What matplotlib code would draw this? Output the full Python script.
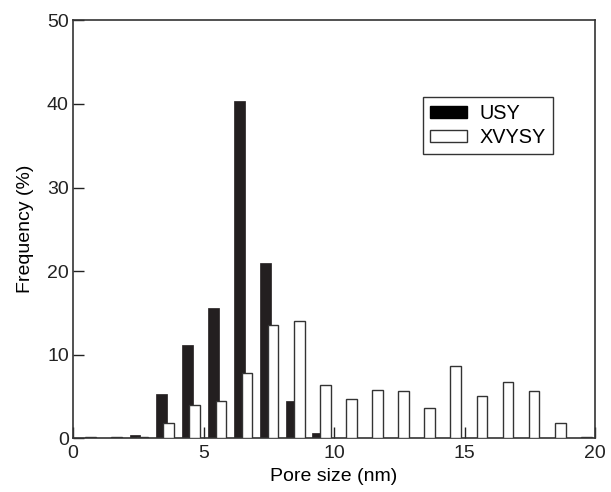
import matplotlib
matplotlib.use("Agg")
import matplotlib.pyplot as plt
from matplotlib.patches import Patch
import numpy as np

bins = np.arange(20)
usy = [0, 0, 0.35, 5.3, 11.15, 15.6, 40.35, 21.0, 4.45, 0.62,
       0, 0, 0, 0, 0, 0, 0, 0, 0, 0]
xvysy = [0.15, 0.15, 0.12, 1.87, 3.95, 4.43, 7.85, 13.6, 14.0, 6.38,
         4.74, 5.74, 5.70, 3.67, 8.61, 5.02, 6.70, 5.70, 1.83, 0.12]
xticks = [0, 5, 10, 15, 20]
yticks = [0, 10, 20, 30, 40, 50]

plt.rcParams['font.family'] = ['Liberation Sans', 'DejaVu Sans']
fig = plt.figure(figsize=(6.11, 4.92), dpi=100)
ax = fig.add_axes([73/611, 1-438.3/492, 522/611, 418/492])

w = 0.41
ax.bar(bins + 0.38, usy, width=w, color='#231f20', edgecolor='#231f20',
       linewidth=0.5, label='USY', zorder=2)
ax.bar(bins + 0.665, xvysy, width=w, color='white', edgecolor='#333333',
       linewidth=1.0, label='XVYSY', zorder=3)

ax.set_xlim(0, 20)
ax.set_ylim(0, 50)
ax.set_xticks(xticks)
ax.set_yticks(yticks)
ax.tick_params(direction='in', length=8, width=1, labelsize=14, colors='#222222')
ax.tick_params(axis='x', pad=5)
ax.tick_params(axis='y', pad=3)
for s in ax.spines.values():
    s.set_linewidth(1.2)
    s.set_color('#333333')
ax.set_xlabel('Pore size (nm)', fontsize=14, labelpad=4)
ax.set_ylabel('Frequency (%)', fontsize=14, labelpad=9)

handles = [Patch(facecolor='black', edgecolor='black', label='USY'),
           Patch(facecolor='white', edgecolor='#333333', linewidth=1.0, label='XVYSY')]
leg = ax.legend(handles=handles, loc='upper left', bbox_to_anchor=(0.670, 0.816),
                fontsize=14.3, frameon=True, fancybox=False, framealpha=1,
                edgecolor='#333333', handlelength=1.9, handleheight=0.6,
                borderpad=0.35, labelspacing=0.25, handletextpad=0.6,
                borderaxespad=0)
leg.get_frame().set_linewidth(1.0)

fig.savefig('out.png', dpi=100)
